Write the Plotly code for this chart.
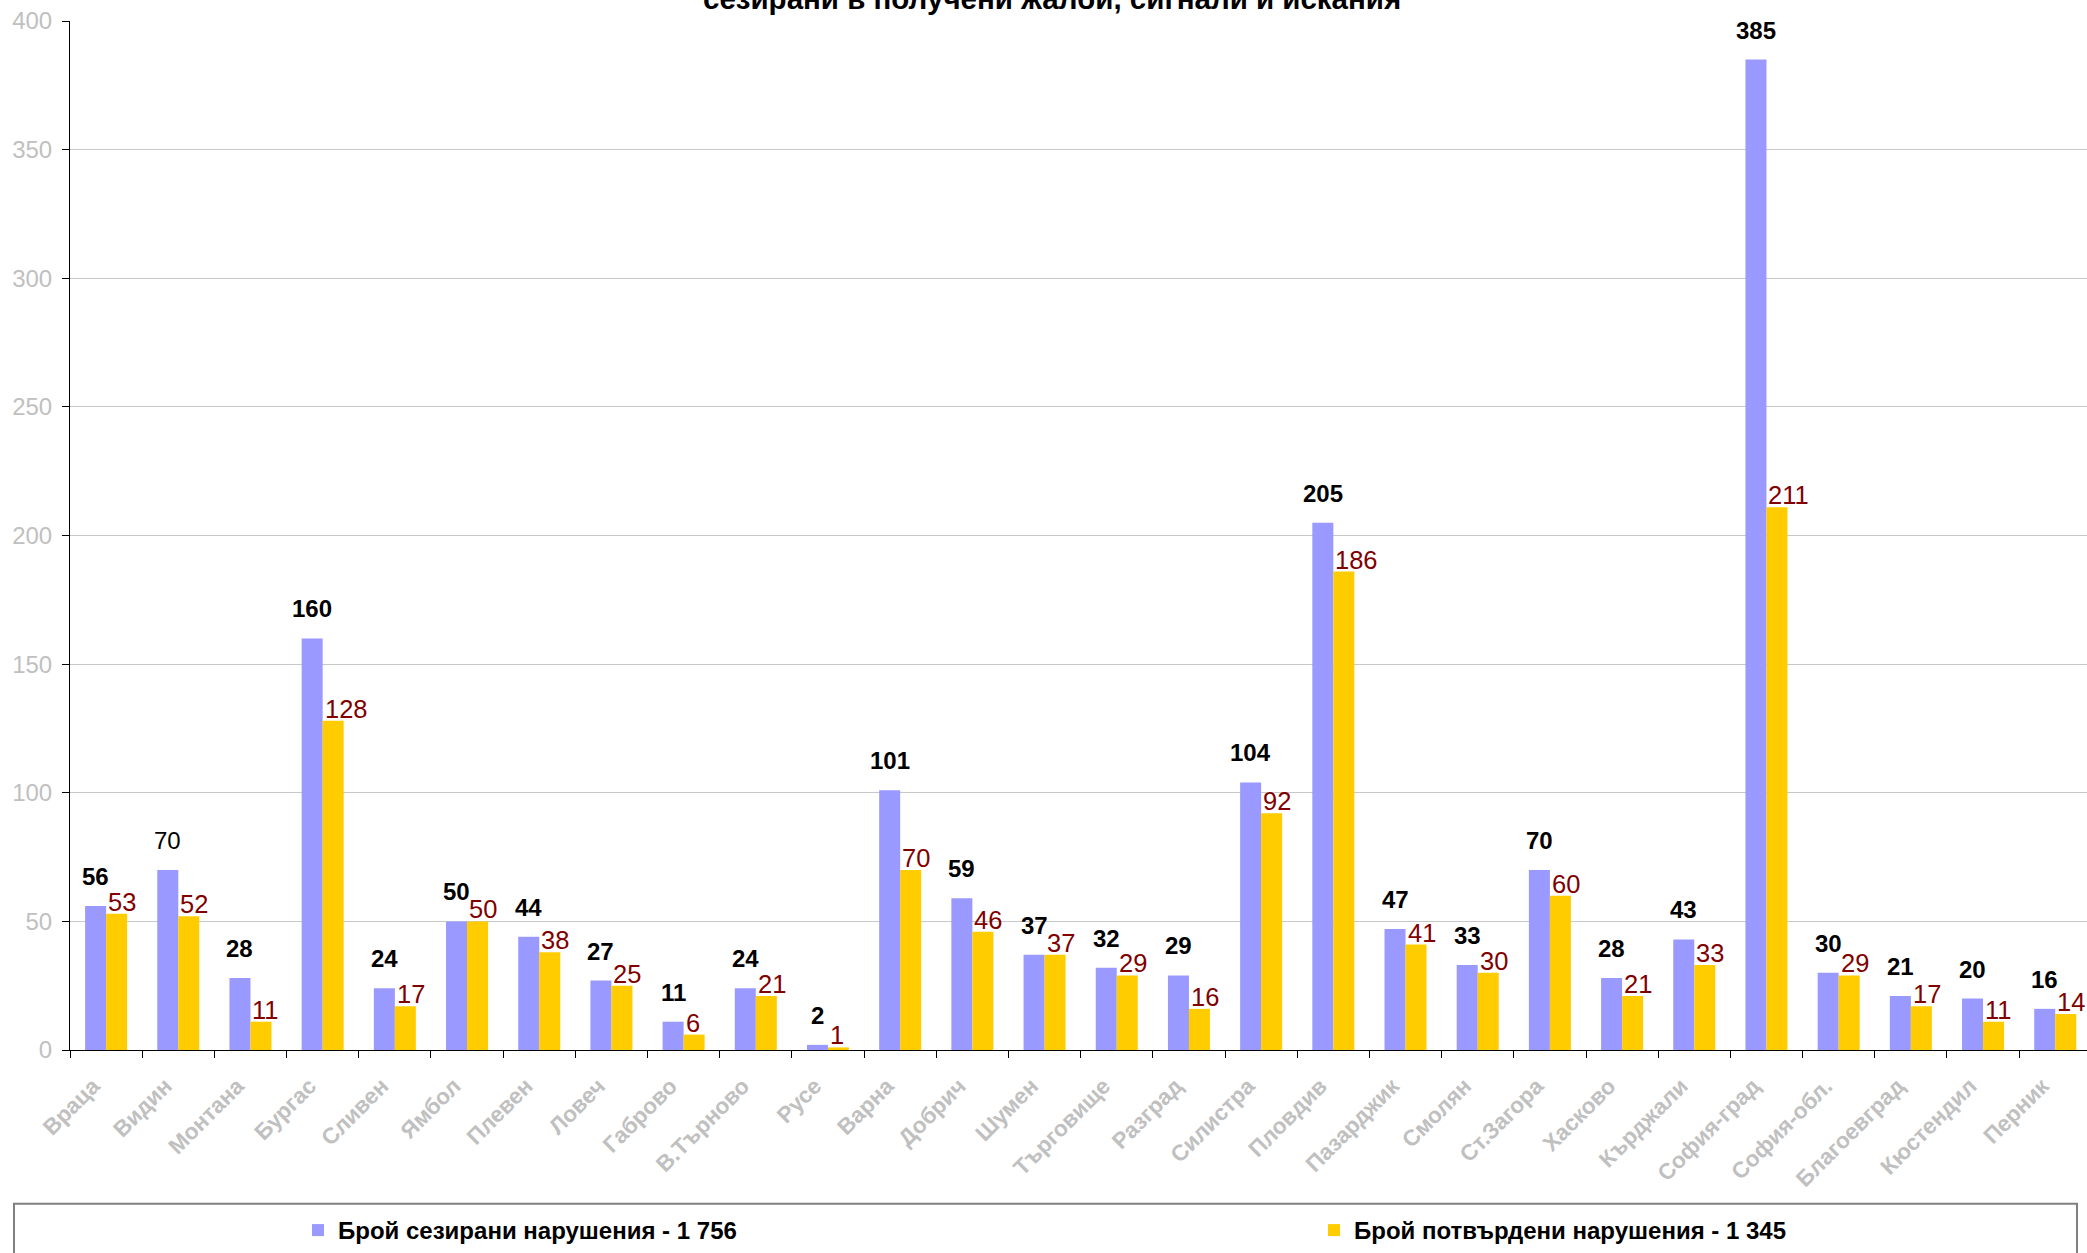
import plotly.graph_objects as go

categories = ["Враца", "Видин", "Монтана", "Бургас", "Сливен", "Ямбол", "Плевен", "Ловеч",
              "Габрово", "В.Търново", "Русе", "Варна", "Добрич", "Шумен", "Търговище", "Разград",
              "Силистра", "Пловдив", "Пазарджик", "Смолян", "Ст.Загора", "Хасково", "Кърджали",
              "София-град", "София-обл.", "Благоевград", "Кюстендил", "Перник"]
seized = [56, 70, 28, 160, 24, 50, 44, 27, 11, 24, 2, 101, 59, 37, 32, 29, 104, 205, 47, 33,
          70, 28, 43, 385, 30, 21, 20, 16]
confirmed = [53, 52, 11, 128, 17, 50, 38, 25, 6, 21, 1, 70, 46, 37, 29, 16, 92, 186, 41, 30,
             60, 21, 33, 211, 29, 17, 11, 14]
name_seized = "Брой сезирани нарушения - 1 756"
name_confirmed = "Брой потвърдени нарушения - 1 345"
title_line = "сезирани в получени жалби, сигнали и искания"
y_ticks = [0, 50, 100, 150, 200, 250, 300, 350, 400]

W, H = 2087, 1253
L, R, T, B = 70, 0, 21, 201
PW, PH = W - L - R, H - T - B
FONT = "Liberation Sans, Arial, sans-serif"
BLUE, YELLOW = "#9999FF", "#FFCC00"

def px_x(X):
    return (X - L) / PW

def px_y(Y):
    return (H - B - Y) / PH

fig = go.Figure()
fig.add_trace(go.Bar(x=categories, y=seized, name=name_seized, marker_color=BLUE,
                     marker_line_width=0, hoverinfo="x+y", legend="legend"))
fig.add_trace(go.Bar(x=categories, y=confirmed, name=name_confirmed, marker_color=YELLOW,
                     marker_line_width=0, hoverinfo="x+y", legend="legend2"))

annotations = []
for c, v in zip(categories, seized):
    txt = str(v) if c == "Видин" else "<b>%d</b>" % v
    annotations.append(dict(x=c, y=v, xref="x", yref="y", text=txt, showarrow=False,
                            xanchor="center", yanchor="bottom", xshift=-10.5, yshift=14,
                            font=dict(family=FONT, size=24, color="#000000")))
for c, v in zip(categories, confirmed):
    annotations.append(dict(x=c, y=v, xref="x", yref="y", text=str(v), showarrow=False,
                            xanchor="left", yanchor="bottom", xshift=0, yshift=-4,
                            font=dict(family=FONT, size=25.5, color="#800000")))
annotations.append(dict(x=px_x(1052), y=px_y(-2), xref="paper", yref="paper",
                        text="<b>%s</b>" % title_line,
                        showarrow=False, xanchor="center", yanchor="middle",
                        font=dict(family=FONT, size=29.5, color="#000000")))

shapes = [dict(type="rect", xref="paper", yref="paper", x0=px_x(14), x1=px_x(2077),
               y0=px_y(1206), y1=px_y(1270), line=dict(color="#808080", width=2),
               fillcolor="rgba(0,0,0,0)", layer="above")]

legend_font = dict(family=FONT, size=24, color="#000000", weight="bold")

fig.update_layout(
    width=W, height=H,
    margin=dict(l=L, r=R, t=T, b=B, pad=0),
    paper_bgcolor="white", plot_bgcolor="white",
    barmode="group", bargap=0.418, bargroupgap=0,
    font=dict(family=FONT),
    showlegend=True,
    legend=dict(orientation="h", x=px_x(298), y=px_y(1233), xanchor="left", yanchor="middle",
                font=legend_font, bgcolor="rgba(0,0,0,0)", borderwidth=0),
    legend2=dict(orientation="h", x=px_x(1314), y=px_y(1233), xanchor="left", yanchor="middle",
                 font=legend_font, bgcolor="rgba(0,0,0,0)", borderwidth=0),
    annotations=annotations,
    shapes=shapes,
    xaxis=dict(type="category", range=[-0.5, 27.44], showline=True, linecolor="#000000",
               linewidth=1, ticks="outside", ticklen=7, tickcolor="#000000", tickson="boundaries",
               tickangle=-45, showgrid=False, automargin=False, ticklabelstandoff=13,
               ticklabelshift=-13,
               tickfont=dict(family=FONT, size=22.5, color="#C0C0C0", weight="bold")),
    yaxis=dict(range=[0, 400], tickvals=y_ticks, showline=True, linecolor="#000000", linewidth=1,
               ticks="outside", ticklen=7, tickcolor="#000000", showgrid=True,
               gridcolor="#C8C8C8", gridwidth=1, zeroline=False, automargin=False,
               ticklabelstandoff=5,
               tickfont=dict(family=FONT, size=24, color="#C0C0C0")),
)

fig.write_html("out.html", config={"displayModeBar": False},
               post_script="document.body.style.margin='0px';document.body.style.overflow='hidden';")
